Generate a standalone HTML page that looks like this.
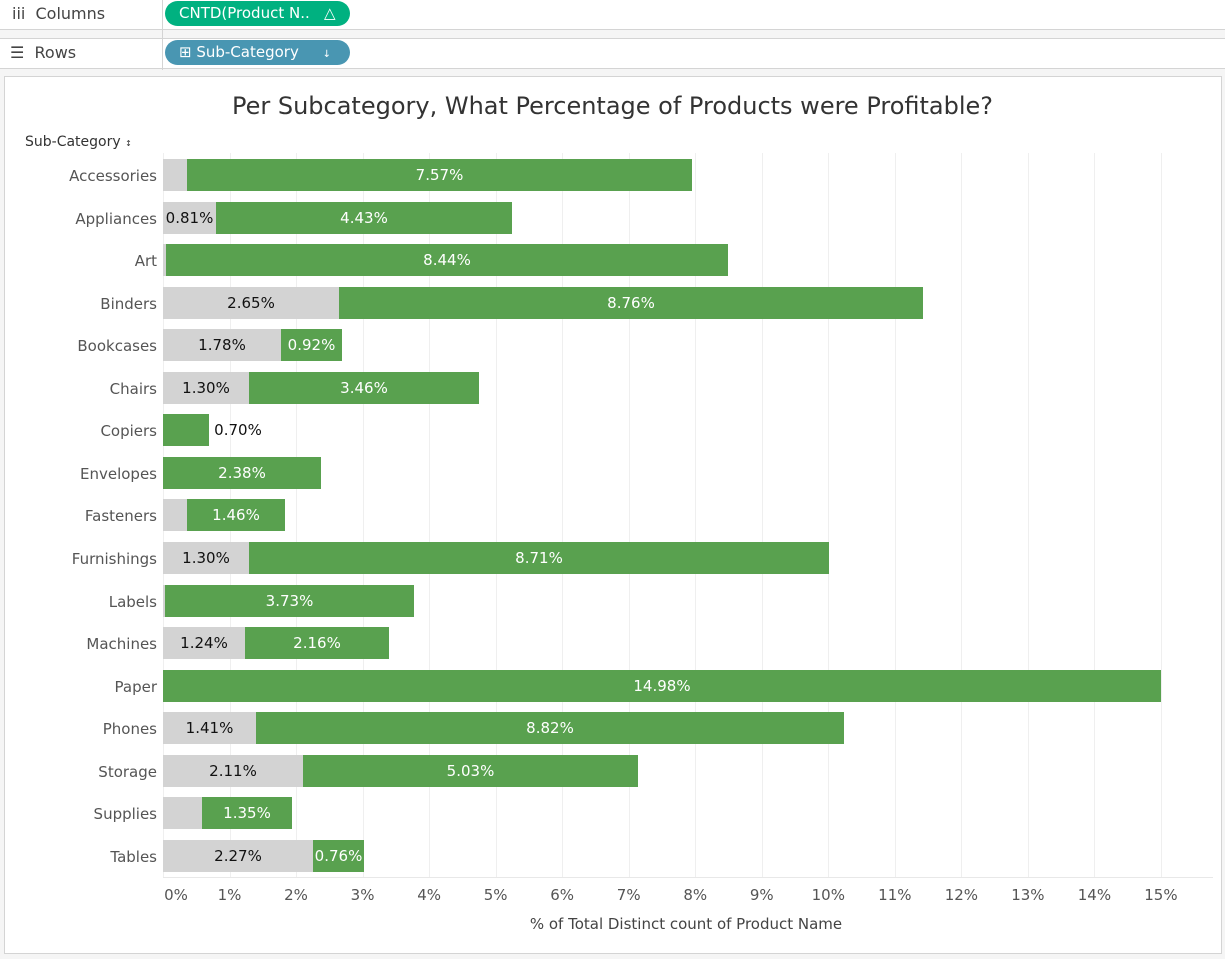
<!DOCTYPE html><html><head><meta charset="utf-8"><style>
body{margin:0;width:1225px;height:959px;background:#f5f5f5;position:relative;overflow:hidden;font-family:"DejaVu Sans","Liberation Sans",sans-serif}
div{position:absolute;box-sizing:border-box}
.shelf{left:0;width:1225px;background:#fff;border-bottom:1px solid #d4d4d4}
.pill{color:#fff;font-size:15px;border-radius:14px;height:25px;line-height:24px;padding-left:14px}
.g{background:#59a14f}.s{background:#d3d3d3}
.lab{font-size:15px;text-align:center;line-height:33px;height:32px;white-space:nowrap}
.cat{right:1068px;font-size:15px;color:#555;line-height:34px;text-align:right}
.gl{top:153px;height:724px;width:1px;background:#efefef}
.tk{top:886px;font-size:15px;color:#555;width:60px;text-align:center}
</style></head><body>
<div class="shelf" style="top:0;height:30px"></div>
<div class="shelf" style="top:38px;height:31px;border-top:1px solid #d4d4d4"></div>
<div style="left:162px;top:0;width:1px;height:70px;background:#d4d4d4"></div>
<div style="left:12px;top:4px;font-size:16px;color:#444">iii&nbsp; Columns</div>
<div style="left:10px;top:43px;font-size:16px;color:#444">☰&nbsp; Rows</div>
<div class="pill" style="left:165px;top:1px;width:185px;background:#00b180">CNTD(Product N..&nbsp;&nbsp;&nbsp;△</div>
<div class="pill" style="left:165px;top:40px;width:185px;background:#4996b2">⊞ Sub-Category&nbsp;&nbsp;&nbsp;&nbsp;&nbsp;<span style="font-size:10px">↓</span></div>
<div style="left:4px;top:76px;width:1218px;height:878px;background:#fff;border:1px solid #d4d4d4"></div>
<div style="left:0;top:92px;width:1225px;text-align:center;font-size:24px;color:#333">Per Subcategory, What Percentage of Products were Profitable?</div>
<div style="left:25px;top:134px;font-size:14px;color:#333">Sub-Category <span style="font-size:8px">↕</span></div>
<div id="chart"></div>
<div style="left:163px;top:877px;width:1050px;height:1px;background:#e8e8e8"></div>
<div style="left:0;top:915px;width:1372px;text-align:center;font-size:15px;color:#444">% of Total Distinct count of Product Name</div>
<script>
var rows=[["Accessories",187,692,"","7.57%"],["Appliances",216,512,"0.81%","4.43%"],["Art",166,728,"","8.44%"],["Binders",339,923,"2.65%","8.76%"],["Bookcases",281,342,"1.78%","0.92%"],["Chairs",249,479,"1.30%","3.46%"],["Copiers",163,209,"","0.70%"],["Envelopes",163,321,"","2.38%"],["Fasteners",187,285,"","1.46%"],["Furnishings",249,829,"1.30%","8.71%"],["Labels",165,414,"","3.73%"],["Machines",245,389,"1.24%","2.16%"],["Paper",163,1161,"","14.98%"],["Phones",256,844,"1.41%","8.82%"],["Storage",303,638,"2.11%","5.03%"],["Supplies",202,292,"","1.35%"],["Tables",313,364,"2.27%","0.76%"]];
var h="";
for(var i=0;i<=15;i++){var x=163+i*66.53;h+='<div class="gl" style="left:'+x+'px"></div>';h+='<div class="tk" style="left:'+(i==0?146:x-30)+'px">'+i+'%</div>';}
rows.forEach(function(r,i){var y=175+i*42.56-16;
h+='<div class="cat" style="top:'+y+'px">'+r[0]+'</div>';
if(r[1]>163){h+='<div class="s" style="left:163px;top:'+y+'px;width:'+(r[1]-163)+'px;height:32px"></div>';
if(r[3])h+='<div class="lab" style="left:163px;top:'+y+'px;width:'+(r[1]-163)+'px;color:#111">'+r[3]+'</div>';}
h+='<div class="g" style="left:'+r[1]+'px;top:'+y+'px;width:'+(r[2]-r[1])+'px;height:32px"></div>';
if(r[0]=="Copiers")h+='<div class="lab" style="left:212px;top:'+y+'px;width:52px;color:#111">'+r[4]+'</div>';
else h+='<div class="lab" style="left:'+r[1]+'px;top:'+y+'px;width:'+(r[2]-r[1])+'px;color:#fff">'+r[4]+'</div>';});
document.getElementById("chart").outerHTML=h;
</script>
</body></html>
